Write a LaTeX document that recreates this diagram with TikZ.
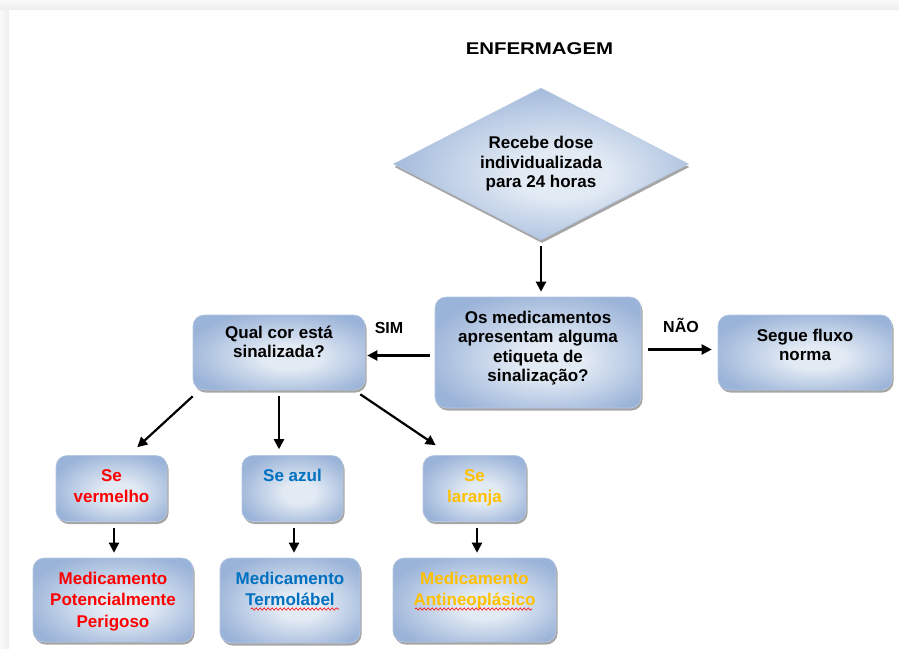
\documentclass[tikz,border=0pt]{standalone}
\usepackage{fontspec}
\setmainfont{Liberation Sans}
\newfontfamily\widefont[FakeStretch=1.2]{Liberation Sans}
\usetikzlibrary{positioning,shapes.geometric,shadows,arrows.meta,decorations.pathmorphing}

\definecolor{boxlight}{HTML}{E2EAF4}
\definecolor{boxdark}{HTML}{9AB3D8}
\definecolor{boxedge}{HTML}{B7C9E3}
\definecolor{txtred}{HTML}{FF0000}
\definecolor{txtblue}{HTML}{0070C0}
\definecolor{txtgold}{HTML}{FFC000}

\pgfdeclareradialshading{boxshade}{\pgfpoint{4bp}{-4bp}}{color(0bp)=(boxlight); color(8bp)=(boxlight); color(30bp)=(boxdark); color(50bp)=(boxdark)}

\newcommand\topfont{\fontsize{17}{19.5}\selectfont\bfseries}
\newcommand\lowfont{\fontsize{17}{21.5}\selectfont\bfseries}
\newcommand\titlefont{\widefont\fontsize{17}{20}\selectfont\bfseries}

\tikzset{
  flowbox/.style={shape=rectangle,rounded corners=11pt,inner sep=0pt,
    shade,shading=boxshade,draw=boxedge,line width=.6pt,
    drop shadow={shadow xshift=1.5pt,shadow yshift=-2.5pt,opacity=.35,fill=black}},
  dosebox/.style={shape=diamond,aspect=1.94,inner sep=0pt,
    minimum width=295pt,minimum height=152pt,
    shade,shading=boxshade,draw=boxedge,line width=.6pt,
    drop shadow={shadow xshift=1pt,shadow yshift=-3pt,opacity=.35,fill=black},
    align=center,font=\topfont},
  boxtext/.style={align=center,inner sep=0pt,font=\topfont},
  lowtext/.style={boxtext,font=\lowfont},
  answer/.style={inner sep=0pt,anchor=base,font=\fontsize{16}{19}\selectfont\bfseries},
  arr/.style={-{Triangle[length=10pt,width=10pt]},line width=2.2pt},
  squiggle/.style={draw=txtred,line width=.6pt,decorate,
    decoration={snake,amplitude=1.1pt,segment length=4pt}}
}

\begin{document}
\begin{tikzpicture}[x=1pt,y=-1pt]
  \def\gap{6pt}
  \def\lift{14pt}

  \useasboundingbox (0,0) rectangle (899,648);

  % page frame
  \shade[top color=gray!4,bottom color=gray!14] (0,0) rectangle (899,10);
  \shade[left color=gray!4,right color=gray!14] (0,10) rectangle (9,648);
  \fill[white] (9,10) rectangle (899,648);

  % title
  \path node (title) at (539.5,48.5) [font=\titlefont] {ENFERMAGEM};

  % decision
  \path node (dose) at (541,164) [dosebox]
        {Recebe dose\\individualizada\\para 24 horas};

  % middle row
  \path node (medic) at (538,352.5) [flowbox,minimum width=206pt,minimum height=111pt] {};
  \path node (qual) at (279,352.5) [flowbox,minimum width=172pt,minimum height=75pt] {};
  \path node (segue) at (805,352.5) [flowbox,minimum width=174pt,minimum height=75pt] {};

  \path node (medictxt) [boxtext,below=\lift of medic.north]
        {Os medicamentos\\apresentam alguma\\etiqueta de\\sinalização?};
  \path node (qualtxt) [boxtext,below=11pt of qual.north]
        {Qual cor está\\sinalizada?};
  \path node (seguetxt) [boxtext,below=\lift of segue.north]
        {Segue fluxo\\norma};

  \path node (sim) at (389,333) [answer] {SIM};
  \path node (nao) at (681,332) [answer] {NÃO};

  % colour row
  \path node (verm) at (111.5,488.5) [flowbox,minimum width=111pt,minimum height=66pt] {};
  \path node (azul) at (292.5,488.5) [flowbox,minimum width=101pt,minimum height=66pt] {};
  \path node (lar) at (474.5,488.5) [flowbox,minimum width=103pt,minimum height=66pt] {};

  \path node (vermtxt) [lowtext,text=txtred,below=\lift of verm.north] {Se\\vermelho};
  \path node (azultxt) [lowtext,text=txtblue,below=\lift of azul.north] {Se azul};
  \path node (lartxt) [lowtext,text=txtgold,below=\lift of lar.north] {Se\\laranja};

  % medicine row
  \path node (perig) at (113,600) [flowbox,minimum width=160pt,minimum height=84pt] {};
  \path node (termo) at (290,600.5) [flowbox,minimum width=140pt,minimum height=85pt] {};
  \path node (antin) at (474.5,600) [flowbox,minimum width=163pt,minimum height=84pt] {};

  \path node (perigtxt) [lowtext,text=txtred,below=\lift of perig.north]
        {Medicamento\\Potencialmente\\Perigoso};
  \path node (termotxt) [lowtext,text=txtblue,below=\lift of termo.north]
        {Medicamento\\Termolábel};
  \path node (antintxt) [lowtext,text=txtgold,below=\lift of antin.north]
        {Medicamento\\Antineoplásico};

  % spelling marks
  \draw[squiggle] (251,609) -- (339,609);
  \draw[squiggle] (415,609) -- (532,609);

  % arrows
  \draw[arr] ([yshift=-\gap]dose.south) -- ([yshift=5pt]dose.south |- medic.north);
  \draw[arr] ([xshift=-5pt,yshift=-3pt]medic.west) -- ([xshift=2pt,yshift=-3pt]qual.east);
  \draw[arr] ([xshift=7pt,yshift=3pt]medic.east) -- ([xshift=-6pt,yshift=3pt]segue.west);

  \draw[arr] ([yshift=-\gap]qual.south west) -- ([xshift=-30pt,yshift=8pt]verm.north east);
  \draw[arr] ([yshift=-\gap]qual.south) -- ([yshift=\gap]qual.south |- azul.north);
  \draw[arr] ([xshift=-5pt,yshift=-4pt]qual.south east) -- ([xshift=13pt,yshift=10pt]lar.north west);

  \draw[arr] ([xshift=2.5pt,yshift=-\gap]verm.south) -- ([xshift=2.5pt,yshift=5pt]verm.south |- perig.north);
  \draw[arr] ([xshift=1.5pt,yshift=-\gap]azul.south) -- ([xshift=1.5pt,yshift=5pt]azul.south |- termo.north);
  \draw[arr] ([xshift=2.5pt,yshift=-\gap]lar.south) -- ([xshift=2.5pt,yshift=5pt]lar.south |- antin.north);
\end{tikzpicture}
\end{document}
